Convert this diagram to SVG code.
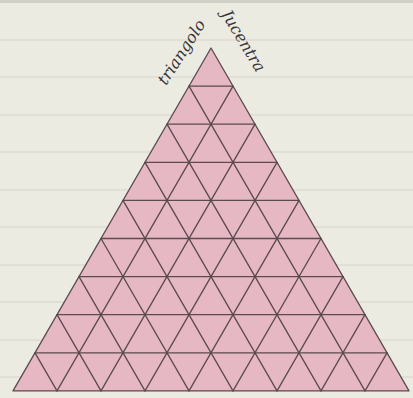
<svg xmlns="http://www.w3.org/2000/svg" width="413" height="398" viewBox="0 0 413 398">
<style>
.paper{fill:#ecebe1}
.rule{stroke:#dfddd2;stroke-width:1.5}
.grid line,.grid polygon{stroke:#5b4a4e;stroke-width:1.3;stroke-linecap:round}
.tri{fill:#e5b8c4}
.hand{font-family:"DejaVu Serif","Liberation Serif",serif;font-style:italic;font-size:16px;fill:#3a3438}
</style>
<rect class="paper" x="0" y="0" width="413" height="398"/>
<rect x="0" y="0" width="413" height="3" fill="#d3d0c5"/>
<g id="paper-lines">
<line class="rule" x1="0" y1="40" x2="413" y2="40"/>
<line class="rule" x1="0" y1="77" x2="413" y2="77"/>
<line class="rule" x1="0" y1="115" x2="413" y2="115"/>
<line class="rule" x1="0" y1="152" x2="413" y2="152"/>
<line class="rule" x1="0" y1="190" x2="413" y2="190"/>
<line class="rule" x1="0" y1="227" x2="413" y2="227"/>
<line class="rule" x1="0" y1="265" x2="413" y2="265"/>
<line class="rule" x1="0" y1="302" x2="413" y2="302"/>
<line class="rule" x1="0" y1="340" x2="413" y2="340"/>
<line class="rule" x1="0" y1="377" x2="413" y2="377"/>
</g>
<g id="triangle" class="grid">
<polygon class="tri" points="211,48 409,390.9 13,390.9" stroke-linejoin="round"/>
</g>
<g id="connectors" class="grid">
<line x1="189" y1="86.1" x2="233" y2="86.1"/>
<line x1="167" y1="124.2" x2="255" y2="124.2"/>
<line x1="145" y1="162.3" x2="277" y2="162.3"/>
<line x1="123" y1="200.4" x2="299" y2="200.4"/>
<line x1="101" y1="238.5" x2="321" y2="238.5"/>
<line x1="79" y1="276.6" x2="343" y2="276.6"/>
<line x1="57" y1="314.7" x2="365" y2="314.7"/>
<line x1="35" y1="352.8" x2="387" y2="352.8"/>
<line x1="57" y1="390.9" x2="233" y2="86.1"/>
<line x1="101" y1="390.9" x2="255" y2="124.2"/>
<line x1="145" y1="390.9" x2="277" y2="162.3"/>
<line x1="189" y1="390.9" x2="299" y2="200.4"/>
<line x1="233" y1="390.9" x2="321" y2="238.5"/>
<line x1="277" y1="390.9" x2="343" y2="276.6"/>
<line x1="321" y1="390.9" x2="365" y2="314.7"/>
<line x1="365" y1="390.9" x2="387" y2="352.8"/>
<line x1="57" y1="390.9" x2="35" y2="352.8"/>
<line x1="101" y1="390.9" x2="57" y2="314.7"/>
<line x1="145" y1="390.9" x2="79" y2="276.6"/>
<line x1="189" y1="390.9" x2="101" y2="238.5"/>
<line x1="233" y1="390.9" x2="123" y2="200.4"/>
<line x1="277" y1="390.9" x2="145" y2="162.3"/>
<line x1="321" y1="390.9" x2="167" y2="124.2"/>
<line x1="365" y1="390.9" x2="189" y2="86.1"/>
</g>
<g id="labels">
<text class="hand" transform="translate(166,86) rotate(-57)">triangolo</text>
<text class="hand" transform="translate(221,14) rotate(59)">Jucentra</text>
</g>
</svg>
